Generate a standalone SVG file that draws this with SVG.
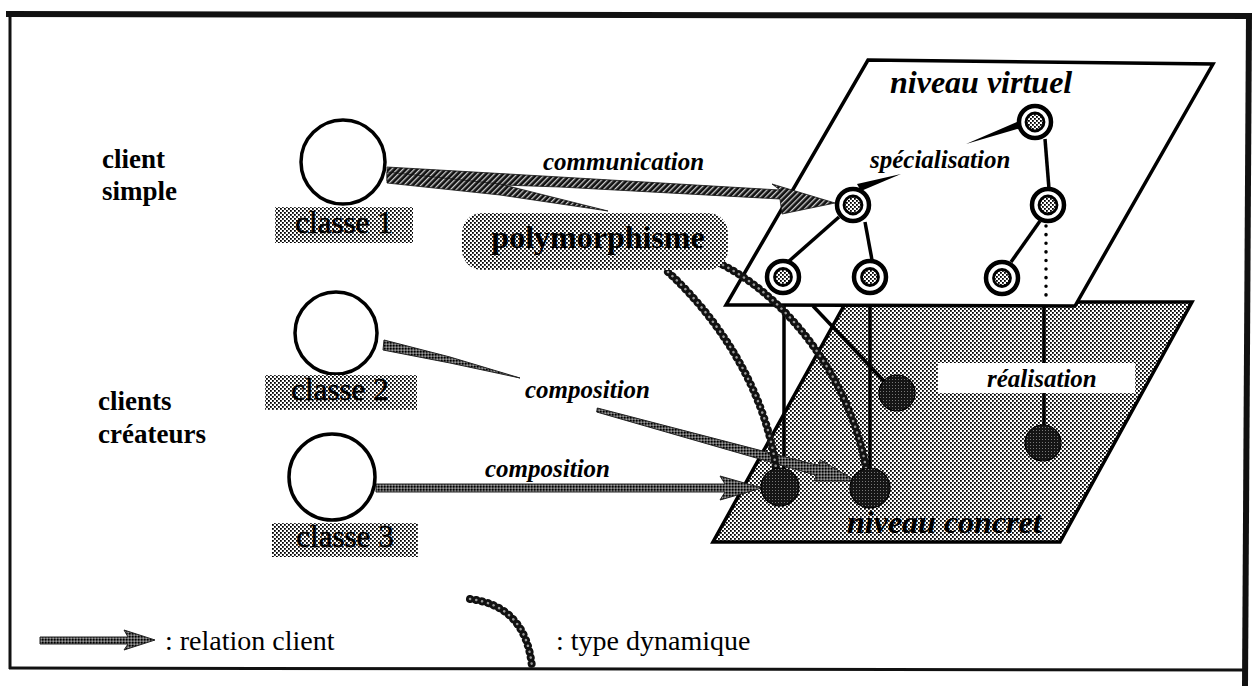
<svg xmlns="http://www.w3.org/2000/svg" width="1258" height="686" viewBox="0 0 1258 686">
<defs>
<pattern id="st" width="4" height="4" patternUnits="userSpaceOnUse"><rect width="4" height="4" fill="#fff"/><rect width="1.8" height="1.8" fill="#000"/><rect x="2" y="2" width="1.8" height="1.8" fill="#000"/></pattern>
<pattern id="dk" width="3" height="3" patternUnits="userSpaceOnUse"><rect width="3" height="3" fill="#151515"/><rect x="1" y="1" width="1" height="1" fill="#777"/></pattern>
<pattern id="ar" width="3" height="3" patternUnits="userSpaceOnUse"><rect width="3" height="3" fill="#555"/><rect width="1.5" height="1.5" fill="#000"/><rect x="1.5" y="1.5" width="1.5" height="1.5" fill="#999"/></pattern>
<pattern id="hz" width="4" height="4" patternUnits="userSpaceOnUse" patternTransform="rotate(45)"><rect width="4" height="4" fill="#111"/><rect width="1.3" height="4" fill="#ccc"/></pattern>
</defs>
<style>
.frame{stroke:#111;fill:none}
.plane{stroke:#000;stroke-width:3.5;stroke-linejoin:miter}
.ln{stroke:#000;stroke-width:3.5;fill:none}
.dot{stroke:#000;stroke-width:3.5;fill:none;stroke-dasharray:0.1 8.5;stroke-linecap:round}
.vo{fill:#fff;stroke:#000;stroke-width:4.5}
.vi{fill:url(#st);stroke:#000;stroke-width:2.8}
.cn{fill:url(#dk);stroke:#000;stroke-width:1.2}
.cls{fill:#fff;stroke:#000;stroke-width:3.5}
.lbl{fill:url(#st)}
.arr{fill:url(#ar);stroke:#222;stroke-width:1}
.hat{fill:url(#hz);stroke:#111;stroke-width:0.8}
.dyn{fill:none;stroke:#111;stroke-width:8;stroke-dasharray:0.1 6;stroke-linecap:round}
.dyni{fill:none;stroke:#999;stroke-width:2.5;stroke-dasharray:0.1 6;stroke-linecap:round}
.bi{font-family:"Liberation Serif",serif;font-weight:bold;font-style:italic;fill:#000}
.b{font-family:"Liberation Serif",serif;font-weight:bold;fill:#000}
.r{font-family:"Liberation Serif",serif;fill:#000}
</style>
<g id="frame">
<line class="frame" x1="6" y1="14" x2="1252" y2="16" stroke-width="6"/>
<line class="frame" x1="1249" y1="14" x2="1245" y2="686" stroke-width="6"/>
<line class="frame" x1="10" y1="14" x2="10" y2="669" stroke-width="3"/>
<line class="frame" x1="9" y1="668" x2="1246" y2="670" stroke-width="3"/>
</g>
<g id="plane-concret">
<polygon class="plane" points="846,302 1192,302 1060,542 713,542" fill="url(#st)"/>
</g>
<g id="plane-virtuel">
<polygon class="plane" points="868,60 1213,64 1075,306 726,305" fill="#fff"/>
</g>
<g id="connectors">
<line class="ln" x1="784" y1="306" x2="784" y2="470"/>
<line class="ln" x1="870" y1="306" x2="870" y2="468"/>
<line class="ln" x1="813" y1="306" x2="884" y2="381"/>
<line class="ln" x1="1044" y1="306" x2="1044" y2="425"/>
<line class="dot" x1="1046" y1="226" x2="1046" y2="302"/>
<line class="ln" x1="839" y1="217" x2="788" y2="262"/>
<line class="ln" x1="865" y1="222" x2="872" y2="260"/>
<line class="ln" x1="1040" y1="221" x2="1011" y2="262"/>
<line class="ln" x1="1045" y1="139" x2="1049" y2="189"/>
<polygon points="1019,121 1021,128 966,144" fill="#000"/>
<polygon points="857,184 861,191 901,174" fill="#000"/>
<polygon class="hat" points="387,167 560,177 780,190 772,184 835,203 782,214 780,199 560,187 387,181"/>
<polygon class="hat" points="387,172 500,184 608,211 500,195 387,183"/>
<polygon class="arr" points="384,340 450,357 520,378 450,363 383,350"/>
<polygon class="arr" points="597.3,408 818.7,465.6 820.3,459.8 856,481 814.5,481 816,475.2 596.7,412"/>
<polygon class="arr" points="376,484 725,484 720,476 762,488 720,500 725,492 376,492"/>
<path class="dyn" d="M668,272 C720,320 765,390 776,468"/>
<path class="dyni" d="M668,272 C720,320 765,390 776,468"/>
<path class="dyn" d="M723,265 C790,300 850,380 866,468"/>
<path class="dyni" d="M723,265 C790,300 850,380 866,468"/>
</g>
<g id="label-realisation">
<rect x="938" y="363" width="197" height="30" fill="#fff"/>
<text class="bi" x="987" y="387" font-size="25">réalisation</text>
</g>
<g id="v-top"><circle class="vo" cx="1035" cy="122" r="16"/><circle class="vi" cx="1035" cy="122" r="9"/></g>
<g id="v-mid-left"><circle class="vo" cx="853" cy="205" r="16"/><circle class="vi" cx="853" cy="205" r="9"/></g>
<g id="v-mid-right"><circle class="vo" cx="1048" cy="205" r="16"/><circle class="vi" cx="1048" cy="205" r="9"/></g>
<g id="v-bot-1"><circle class="vo" cx="783" cy="277" r="16"/><circle class="vi" cx="783" cy="277" r="8.5"/></g>
<g id="v-bot-2"><circle class="vo" cx="870" cy="277" r="16"/><circle class="vi" cx="870" cy="277" r="8.5"/></g>
<g id="v-bot-3"><circle class="vo" cx="1002" cy="278" r="16"/><circle class="vi" cx="1002" cy="278" r="8.5"/></g>
<g id="c-1"><circle class="cn" cx="897" cy="393" r="18"/></g>
<g id="c-real"><circle class="cn" cx="1043" cy="443" r="18"/></g>
<g id="c-a"><circle class="cn" cx="780" cy="487" r="19"/></g>
<g id="c-b"><circle class="cn" cx="870" cy="488" r="20"/></g>
<g id="classe1"><circle class="cls" cx="343" cy="162" r="42"/><rect class="lbl" x="275" y="207" width="138" height="36"/><text class="r" x="344" y="233" font-size="31" text-anchor="middle" stroke="#000" stroke-width="0.6">classe 1</text></g>
<g id="classe2"><circle class="cls" cx="336" cy="333" r="41"/><rect class="lbl" x="265" y="375" width="152" height="35"/><text class="r" x="340" y="400" font-size="31" text-anchor="middle" stroke="#000" stroke-width="0.6">classe 2</text></g>
<g id="classe3"><circle class="cls" cx="332" cy="477" r="43"/><rect class="lbl" x="272" y="523" width="146" height="34"/><text class="r" x="345" y="547" font-size="31" text-anchor="middle" stroke="#000" stroke-width="0.6">classe 3</text></g>
<g id="polymorphisme"><rect class="lbl" x="462" y="213" width="266" height="57" rx="20"/><text class="b" x="598" y="248" font-size="32" text-anchor="middle">polymorphisme</text></g>
<g id="texts">
<text class="b" x="102" y="168" font-size="27">client</text>
<text class="b" x="102" y="200" font-size="27">simple</text>
<text class="b" x="98" y="410" font-size="27">clients</text>
<text class="b" x="98" y="443" font-size="27">créateurs</text>
<text class="bi" x="543" y="170" font-size="25">communication</text>
<text class="bi" x="870" y="168" font-size="25">spécialisation</text>
<text class="bi" x="890" y="93" font-size="32">niveau virtuel</text>
<text class="bi" x="525" y="398" font-size="25">composition</text>
<text class="bi" x="485" y="477" font-size="25">composition</text>
<text class="bi" x="847" y="533" font-size="32">niveau concret</text>
</g>
<g id="legend">
<polygon class="arr" points="40,637 128,637 124,630 155,640 124,650 128,644 40,644"/>
<path class="dyn" d="M470,599 Q526,606 532,667"/>
<path class="dyni" d="M470,599 Q526,606 532,667"/>
<text class="r" x="165" y="650" font-size="28">: relation client</text>
<text class="r" x="556" y="650" font-size="28">: type dynamique</text>
</g>
</svg>
